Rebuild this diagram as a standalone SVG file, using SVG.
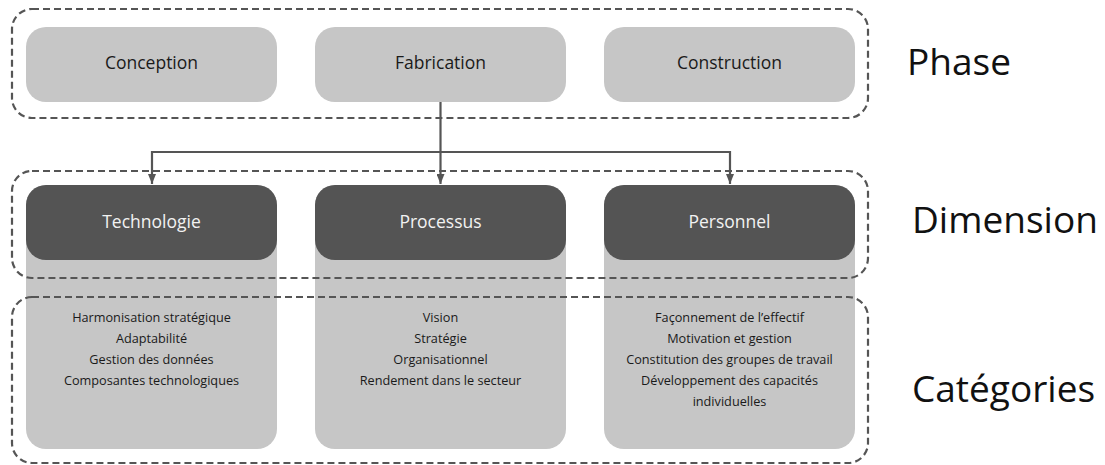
<svg xmlns="http://www.w3.org/2000/svg" width="1105" height="465" viewBox="0 0 1105 465">
<defs>
<style>
.grp{fill:none;stroke:#555;stroke-width:2.2;stroke-dasharray:7 4}
.ph{fill:#c6c6c6}
.cat{fill:#c6c6c6}
.dim{fill:#545454}
.t{font-family:"Open Sans","Noto Sans",sans-serif;text-anchor:middle}
.pt{font-size:17.5px;fill:#1a1a1a}
.dt{font-size:17.5px;fill:#f2f2f2}
.ct{font-size:12.7px;fill:#1a1a1a}
.lab{font-family:"Open Sans","Noto Sans",sans-serif;font-size:37px;fill:#111}
.conn{fill:none;stroke:#555;stroke-width:2.2}
</style>
<marker id="ah" viewBox="0 0 10 8" refX="10" refY="4" markerWidth="10" markerHeight="8" markerUnits="userSpaceOnUse" orient="auto">
<path d="M0,0 L10,4 L0,8 z" fill="#555"/>
</marker>
</defs>
<rect width="1105" height="465" fill="#fff"/>

<g id="categories-boxes">
<g id="cat-technologie">
<rect class="cat" x="26" y="185" width="251" height="264" rx="20"/>
<text class="t ct"><tspan x="151.5" y="322">Harmonisation stratégique</tspan><tspan x="151.5" y="343">Adaptabilité</tspan><tspan x="151.5" y="364">Gestion des données</tspan><tspan x="151.5" y="385">Composantes technologiques</tspan></text>
</g>
<g id="cat-processus">
<rect class="cat" x="315" y="185" width="251" height="264" rx="20"/>
<text class="t ct"><tspan x="440.5" y="322">Vision</tspan><tspan x="440.5" y="343">Stratégie</tspan><tspan x="440.5" y="364">Organisationnel</tspan><tspan x="440.5" y="385">Rendement dans le secteur</tspan></text>
</g>
<g id="cat-personnel">
<rect class="cat" x="604" y="185" width="251" height="264" rx="20"/>
<text class="t ct"><tspan x="729.5" y="322">Façonnement de l’effectif</tspan><tspan x="729.5" y="343">Motivation et gestion</tspan><tspan x="729.5" y="364">Constitution des groupes de travail</tspan><tspan x="729.5" y="385">Développement des capacités</tspan><tspan x="729.5" y="406">individuelles</tspan></text>
</g>
</g>

<g id="dim-technologie">
<rect class="dim" x="26" y="185" width="251" height="75" rx="20"/>
<text class="t dt" x="151.5" y="228">Technologie</text>
</g>
<g id="dim-processus">
<rect class="dim" x="315" y="185" width="251" height="75" rx="20"/>
<text class="t dt" x="440.5" y="228">Processus</text>
</g>
<g id="dim-personnel">
<rect class="dim" x="604" y="185" width="251" height="75" rx="20"/>
<text class="t dt" x="729.5" y="228">Personnel</text>
</g>

<g id="phase-conception">
<rect class="ph" x="26" y="27" width="251" height="75" rx="20"/>
<text class="t pt" x="151.5" y="69">Conception</text>
</g>
<g id="phase-fabrication">
<rect class="ph" x="315" y="27" width="251" height="75" rx="20"/>
<text class="t pt" x="440.5" y="69">Fabrication</text>
</g>
<g id="phase-construction">
<rect class="ph" x="604" y="27" width="251" height="75" rx="20"/>
<text class="t pt" x="729.5" y="69">Construction</text>
</g>

<g id="groups">
<rect id="group-phase" class="grp" x="12" y="9" width="856" height="109" rx="20"/>
<rect id="group-dimension" class="grp" x="12" y="171" width="856" height="107" rx="20"/>
<rect id="group-categories" class="grp" x="12" y="297" width="856" height="166" rx="20"/>
</g>

<g id="connectors">
<line class="conn" x1="440.5" y1="102" x2="440.5" y2="184" marker-end="url(#ah)"/>
<polyline class="conn" points="440.5,152 152,152 152,184" marker-end="url(#ah)"/>
<polyline class="conn" points="440.5,152 730,152 730,184" marker-end="url(#ah)"/>
</g>

<g id="labels">
<text class="lab" x="907" y="75">Phase</text>
<text class="lab" x="912" y="233">Dimension</text>
<text class="lab" x="912" y="402">Catégories</text>
</g>
</svg>
